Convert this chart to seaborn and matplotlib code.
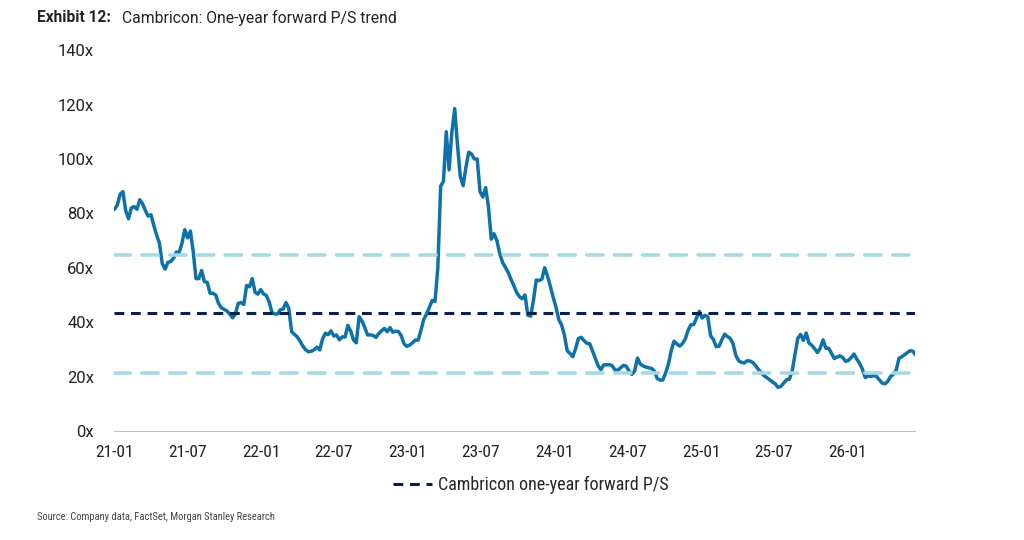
import pandas as pd
import matplotlib.pyplot as plt
import seaborn as sns

# Cambricon one-year forward P/S, weekly readings starting Jan 2021
ps_values = [
    81.5, 83, 87, 88, 81, 78, 82, 82.5, 81.5, 85,
    83.5, 81, 79, 79.5, 75.5, 72, 69, 61.5, 59.5, 62,
    62.3, 63.5, 65.8, 65.5, 69, 74, 71, 73.5, 66, 56,
    56, 59, 54.9, 54.6, 50.6, 50.6, 50, 46.9, 45.3, 44.7,
    44.1, 43, 41.6, 43, 46.9, 47.2, 46.5, 53.5, 53, 56,
    51, 50.3, 52, 50.4, 49.8, 47.5, 43.6, 43, 43, 44.6,
    44.8, 47.2, 45, 36.5, 35.5, 34.6, 33, 31.2, 29.8, 29.1,
    29.3, 29.8, 30.8, 29.8, 33.8, 35.9, 35.4, 36.8, 34.9, 35.3,
    33.5, 34.6, 34.5, 38.8, 36.7, 33.5, 32.4, 42, 40.5, 38.1,
    35.3, 35.3, 35.1, 34.4, 35.8, 36.8, 37.7, 36.5, 38, 36.3,
    36.7, 36.5, 35, 32, 31.1, 31.6, 32.4, 33.4, 33.4, 37,
    41, 43, 45.5, 48, 47.6, 60, 90, 91.8, 110, 96,
    110, 118.5, 105, 93.5, 90.2, 97, 102.5, 101.8, 100, 100,
    88, 86, 89.5, 82.4, 70.5, 72.5, 70, 65.3, 62, 60.2,
    58.3, 55.8, 53.5, 51, 49.4, 48.6, 50, 42.6, 42.2, 48,
    55.5, 55.3, 55.8, 60, 57, 53.2, 49.2, 45.6, 41, 39,
    35.3, 29.5, 28.5, 27.3, 30.3, 34, 34.4, 33.2, 32.2, 32.1,
    29.4, 26.6, 24, 22.5, 24.3, 24.3, 24.4, 24, 22.4, 22.3,
    23.2, 24.1, 23.8, 22, 20.8, 22, 26.8, 24.6, 23.9, 23.5,
    23.2, 23, 22, 19.3, 18.7, 18.7, 21.3, 24.5, 29.5, 33,
    32, 31.2, 32.1, 33.8, 37, 39, 39.1, 41.5, 44, 41.5,
    42.5, 42, 35, 33.6, 31, 31.1, 33.5, 35.6, 34.7, 34,
    32, 27.7, 25.8, 25.2, 25, 25.8, 25.7, 25.2, 24, 22.6,
    21.4, 20.3, 19.6, 18.8, 18, 17.3, 16, 16.4, 17.6, 18.8,
    19, 22, 28, 34, 35.5, 33.3, 36, 32.3, 31.5, 30.2,
    28.8, 30.4, 33.5, 30.4, 30.4, 28.5, 26.6, 27.2, 27.6, 27,
    25.6, 25.9, 27, 28.3, 26.4, 24.8, 22.7, 19.6, 20.2, 20,
    20.4, 20, 18.8, 17.6, 17.3, 18.2, 20, 20.8, 22.3, 26.7,
    27.3, 28, 28.8, 29.5, 29.3, 27.8,
]
start_date = "2021-01-01"

# average and +/- 1 standard deviation bands
ps_mean = 43.3
ps_upper = 64.8
ps_lower = 21.2

tick_dates = pd.date_range("2021-01-01", "2026-01-01", freq="6MS")
tick_labels = ["21-01", "21-07", "22-01", "22-07", "23-01", "23-07",
               "24-01", "24-07", "25-01", "25-07", "26-01"]
y_ticks = [0, 20, 40, 60, 80, 100, 120, 140]

df = pd.DataFrame({
    "date": pd.date_range(start_date, periods=len(ps_values), freq="7D"),
    "ps": ps_values,
})

sns.set_theme(style="white")
plt.rcParams["font.family"] = ["Roboto", "DejaVu Sans"]
narrow = ["Liberation Sans Narrow", "Roboto Condensed", "Roboto", "DejaVu Sans"]

fig = plt.figure(figsize=(10.24, 5.4), dpi=100)
ax = fig.add_axes([0.111, 0.202, 0.783, 0.705])

sns.lineplot(data=df, x="date", y="ps", ax=ax, color="#0e72a8", linewidth=2.5)

start = df["date"].iloc[0]
end = pd.Timestamp("2026-06-20")
ax.plot([start, end], [ps_upper, ps_upper], color="#a7d9e4", lw=2.6,
        dashes=(4.5, 3.2), dash_capstyle="round")
ax.plot([start, end], [ps_lower, ps_lower], color="#a7d9e4", lw=2.6,
        dashes=(4.5, 3.2), dash_capstyle="round")
ax.plot([start, end], [ps_mean, ps_mean], color="#0b1f4d", lw=2.2,
        dashes=(3.2, 2.2), label="Cambricon one-year forward P/S")

ax.set_xlim(pd.Timestamp("2020-12-30"), pd.Timestamp("2026-06-18"))
ax.set_ylim(0, 140)
ax.set_yticks(y_ticks)
ax.set_yticklabels([f"{v}x" for v in y_ticks], fontsize=12, color="#222222")
ax.set_xticks(tick_dates)
ax.set_xticklabels(tick_labels, fontsize=12.5, color="#222222", family=narrow)
ax.set_xlabel("")
ax.set_ylabel("")

for side in ["top", "right", "left"]:
    ax.spines[side].set_visible(False)
ax.spines["bottom"].set_color("#bfbfbf")
ax.spines["bottom"].set_linewidth(0.8)
ax.tick_params(axis="x", length=4, color="#bfbfbf", width=0.8, pad=6)
ax.tick_params(axis="y", length=0, pad=14)

leg = ax.legend(loc="center", bbox_to_anchor=(0.52, -0.142), frameon=False,
                handlelength=2.2, handletextpad=0.3,
                prop={"family": narrow, "size": 13})

fig.text(37 / 1024, 1 - 18 / 540, "Exhibit 12:", fontsize=11.2,
         fontweight="bold", color="#222222", va="center")
fig.text(122 / 1024, 1 - 18 / 540, "Cambricon: One-year forward P/S trend",
         fontsize=11.3, color="#222222", va="center")
fig.text(37 / 1024, 1 - 517 / 540,
         "Source: Company data, FactSet, Morgan Stanley Research",
         fontsize=7.6, color="#444444", va="center", family=narrow)

plt.savefig("out.png", dpi=100)
